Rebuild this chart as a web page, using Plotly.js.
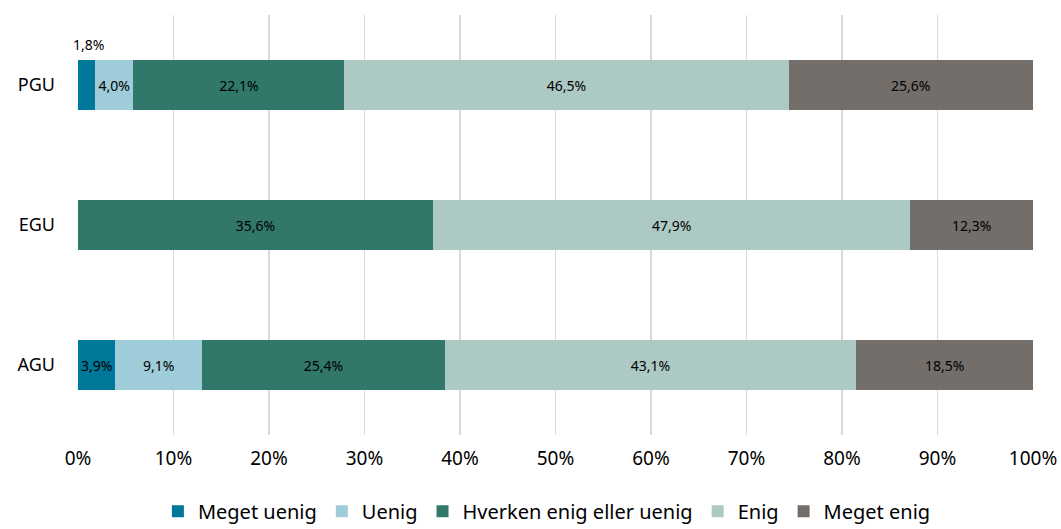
<!DOCTYPE html>
<html><head><meta charset="utf-8">
<script src="https://cdn.plot.ly/plotly-3.0.1.min.js"></script>
<style>html,body{margin:0;padding:0;background:#fff}#chart{width:1061px;height:529px}</style>
</head><body><div id="chart"></div>
<script>
const categories = ['PGU', 'EGU', 'AGU'];
const seriesNames = ['Meget uenig', 'Uenig', 'Hverken enig eller uenig', 'Enig', 'Meget enig'];
const megetUenig = [1.8, 0, 3.9];
const uenig = [4.0, 0, 9.1];
const hverken = [22.1, 35.6, 25.4];
const enig = [46.5, 47.9, 43.1];
const megetEnig = [25.6, 12.3, 18.5];
const tickVals = [0, 10, 20, 30, 40, 50, 60, 70, 80, 90, 100];
const tickText = ['0%', '10%', '20%', '30%', '40%', '50%', '60%', '70%', '80%', '90%', '100%'];

const colors = ['#00789A', '#9ECCD9', '#31786B', '#ADC9C4', '#736E6A'];
const series = [megetUenig, uenig, hverken, enig, megetEnig];
const FONT = 'Noto Sans, sans-serif';
const fmt = v => v.toFixed(1).replace('.', ',') + '%';

const traces = series.map((vals, i) => ({
  type: 'bar', orientation: 'h', name: seriesNames[i],
  y: categories, x: vals,
  marker: {color: colors[i]},
  text: vals.map((v, j) => (v === 0 || (i === 0 && j === 0)) ? '' : fmt(v)),
  textposition: 'inside', insidetextanchor: 'middle', textangle: 0,
  constraintext: 'none', cliponaxis: false,
  textfont: {family: FONT, size: 14, color: '#000'},
  hoverinfo: 'none'
}));

const layout = {
  width: 1061, height: 529,
  margin: {l: 78, r: 28, t: 15, b: 94, autoexpand: false},
  barmode: 'stack', barnorm: 'percent', bargap: 0.64,
  paper_bgcolor: '#fff', plot_bgcolor: '#fff',
  font: {family: FONT, color: '#000'},
  xaxis: {range: [0, 100.0001], tickvals: tickVals, ticktext: tickText,
    showgrid: true, gridcolor: '#D9D9D9', gridwidth: 1.5, zeroline: false,
    showline: false, ticks: '', ticklabelstandoff: 10,
    tickfont: {family: FONT, size: 19, color: '#000'}, fixedrange: true},
  yaxis: {categoryorder: 'array', categoryarray: categories, autorange: 'reversed',
    showgrid: false, zeroline: false, showline: false, ticks: '', ticklabelstandoff: 22,
    tickfont: {family: FONT, size: 18, color: '#000'}},
  showlegend: true,
  legend: {orientation: 'h', x: 0.491, xanchor: 'center', y: -0.135, yanchor: 'top',
    font: {family: FONT, size: 20, color: '#000'}, traceorder: 'normal',
    itemwidth: 30, itemsizing: 'constant'},
  annotations: [{x: megetUenig[0] / 2, y: categories[0], xref: 'x', yref: 'y',
    text: fmt(megetUenig[0]), showarrow: false, yshift: 41, xshift: 2,
    font: {family: FONT, size: 14, color: '#000'}}]
};
Plotly.newPlot('chart', traces, layout, {displayModeBar: false, staticPlot: true});
</script></body></html>
